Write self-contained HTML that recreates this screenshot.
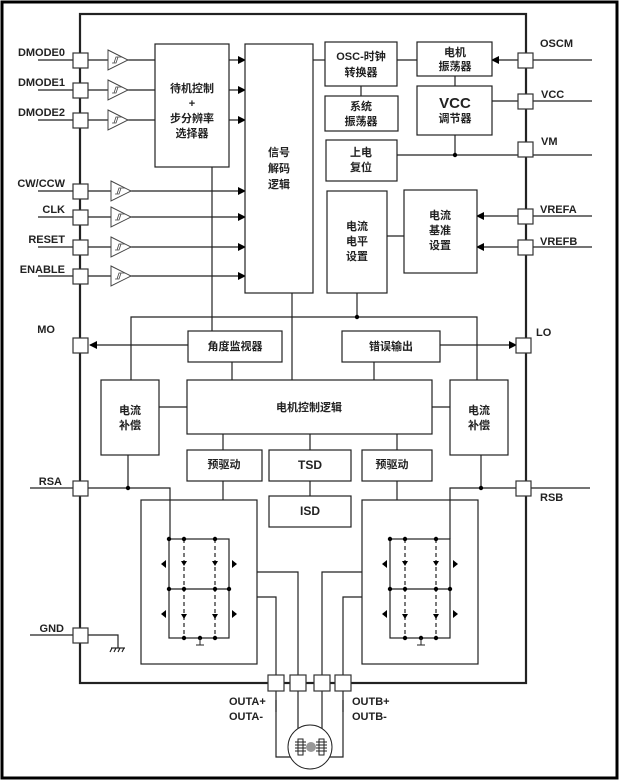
<!DOCTYPE html>
<html><head><meta charset="utf-8"><style>
html,body{margin:0;padding:0;background:#fff;}
svg{display:block;}
text{font-family:"Liberation Sans","Noto Sans CJK SC",sans-serif;font-weight:bold;fill:#222;}
</style></head><body>
<svg width="619" height="780" viewBox="0 0 619 780" xmlns="http://www.w3.org/2000/svg">
<defs>
<marker id="ar" markerWidth="8" markerHeight="8" refX="7" refY="4" orient="auto" markerUnits="userSpaceOnUse"><path d="M0,0 L8,4 L0,8 Z" fill="#000"/></marker>
<g id="buf"><path d="M0,-10 L20,0 L0,10 Z" fill="#fff" stroke="#444" stroke-width="1"/><path d="M4,3 L8,3 L10,-3 L14,-3 M6,3 L8,-3 L12,-3" fill="none" stroke="#444" stroke-width="0.8"/></g>
<g id="br">
<rect x="0" y="0" width="60" height="99" fill="none" stroke="#222" stroke-width="1.2"/>
<line x1="0" y1="50" x2="60" y2="50" stroke="#222" stroke-width="1.2"/>
<line x1="15" y1="0" x2="15" y2="99" stroke="#222" stroke-width="1.2" stroke-dasharray="4,3"/>
<line x1="46" y1="0" x2="46" y2="99" stroke="#222" stroke-width="1.2" stroke-dasharray="4,3"/>
<g fill="#000"><circle cx="0" cy="0" r="2.2"/><circle cx="15" cy="0" r="2.2"/><circle cx="46" cy="0" r="2.2"/>
<circle cx="0" cy="50" r="2.2"/><circle cx="15" cy="50" r="2.2"/><circle cx="46" cy="50" r="2.2"/><circle cx="60" cy="50" r="2.2"/>
<circle cx="15" cy="99" r="2.2"/><circle cx="31" cy="99" r="2.2"/><circle cx="46" cy="99" r="2.2"/>
<path d="M-8,25 l5,-4 v8 z M68,25 l-5,-4 v8 z M-8,75 l5,-4 v8 z M68,75 l-5,-4 v8 z"/>
<path d="M12,22 h6 l-3,5 z M43,22 h6 l-3,5 z M12,75 h6 l-3,5 z M43,75 h6 l-3,5 z"/></g>
<line x1="31" y1="99" x2="31" y2="106" stroke="#222"/><line x1="27" y1="106" x2="35" y2="106" stroke="#222"/>
</g>
</defs>
<rect x="2" y="2" width="615" height="776" fill="none" stroke="#000" stroke-width="3"/>
<g stroke="#222" stroke-width="1.2" fill="none">
<!-- chip -->
<rect x="80" y="14" width="446" height="669" stroke-width="2.2"/>
<!-- left input lines -->
<line x1="38" y1="60" x2="155" y2="60"/><line x1="38" y1="90" x2="155" y2="90"/><line x1="38" y1="120" x2="155" y2="120"/>
<line x1="38" y1="191" x2="245" y2="191" marker-end="url(#ar)"/>
<line x1="38" y1="217" x2="245" y2="217" marker-end="url(#ar)"/>
<line x1="38" y1="247" x2="245" y2="247" marker-end="url(#ar)"/>
<line x1="38" y1="276" x2="245" y2="276" marker-end="url(#ar)"/>
<line x1="229" y1="60" x2="245" y2="60" marker-end="url(#ar)"/>
<line x1="229" y1="90" x2="245" y2="90" marker-end="url(#ar)"/>
<line x1="229" y1="120" x2="245" y2="120" marker-end="url(#ar)"/>
<rect x="155" y="44" width="74" height="123" fill="#fff"/>
<rect x="245" y="44" width="68" height="249" fill="#fff"/>
<line x1="212" y1="167" x2="212" y2="337"/>
<!-- right blocks -->
<line x1="313" y1="60" x2="325" y2="60"/><line x1="397" y1="60" x2="417" y2="60"/>
<line x1="361" y1="86" x2="361" y2="96"/><line x1="455" y1="76" x2="455" y2="86"/>
<line x1="592" y1="60" x2="492" y2="60" marker-end="url(#ar)"/>
<line x1="592" y1="101" x2="492" y2="101"/>
<line x1="592" y1="155" x2="397" y2="155"/><line x1="455" y1="135" x2="455" y2="155"/>
<line x1="592" y1="216" x2="477" y2="216" marker-end="url(#ar)"/>
<line x1="592" y1="247" x2="477" y2="247" marker-end="url(#ar)"/>
<line x1="387" y1="236" x2="404" y2="236"/>
<rect x="325" y="42" width="72" height="44" fill="#fff"/>
<rect x="417" y="42" width="75" height="34" fill="#fff"/>
<rect x="325" y="96" width="73" height="35" fill="#fff"/>
<rect x="417" y="86" width="75" height="49" fill="#fff"/>
<rect x="326" y="140" width="71" height="41" fill="#fff"/>
<rect x="327" y="191" width="60" height="102" fill="#fff"/>
<rect x="404" y="190" width="73" height="83" fill="#fff"/>
<!-- middle -->
<line x1="357" y1="293" x2="357" y2="317"/>
<polyline points="131,380 131,317 477,317 477,380"/>
<line x1="292" y1="293" x2="292" y2="380"/>
<line x1="232" y1="362" x2="232" y2="380"/><line x1="374" y1="362" x2="374" y2="380"/>
<line x1="188" y1="345" x2="90" y2="345" marker-end="url(#ar)"/>
<line x1="440" y1="345" x2="516" y2="345" marker-end="url(#ar)"/>
<rect x="188" y="331" width="94" height="31" fill="#fff"/>
<rect x="342" y="331" width="98" height="31" fill="#fff"/>
<line x1="159" y1="407" x2="187" y2="407"/><line x1="432" y1="407" x2="450" y2="407"/>
<rect x="187" y="380" width="245" height="54" fill="#fff"/>
<rect x="101" y="380" width="58" height="75"/>
<rect x="450" y="380" width="58" height="75"/>
<line x1="223" y1="434" x2="223" y2="450"/><line x1="310" y1="434" x2="310" y2="450"/><line x1="397" y1="434" x2="397" y2="450"/>
<line x1="310" y1="481" x2="310" y2="496"/><line x1="223" y1="481" x2="223" y2="500"/><line x1="397" y1="481" x2="397" y2="500"/>
<rect x="187" y="450" width="75" height="31"/><rect x="269" y="450" width="82" height="31"/><rect x="362" y="450" width="70" height="31"/>
<rect x="269" y="496" width="82" height="31"/>
<!-- RSA/RSB -->
<polyline points="30,488 170,488 170,539"/><line x1="128" y1="455" x2="128" y2="488"/>
<polyline points="590,488 450,488 450,539"/><line x1="481" y1="455" x2="481" y2="488"/>
<rect x="141" y="500" width="116" height="164"/>
<rect x="362" y="500" width="116" height="164"/>
<!-- out wires -->
<polyline points="257,572 298,572 298,757"/>
<polyline points="257,597 276,597 276,712"/>
<polyline points="362,572 322,572 322,757"/>
<polyline points="362,597 343,597 343,712"/>
<polyline points="276,700 276,757 298,757"/><polyline points="343,700 343,757 322,757"/>
<circle cx="310" cy="747" r="22" fill="#fff" stroke-width="1"/>
<!-- gnd -->
<polyline points="30,635 118,635 118,648"/>
<line x1="111" y1="648" x2="125" y2="648"/>
<line x1="112" y1="648" x2="110" y2="652"/><line x1="116" y1="648" x2="114" y2="652"/><line x1="120" y1="648" x2="118" y2="652"/><line x1="124" y1="648" x2="122" y2="652"/>
</g>
<!-- buffers -->
<use href="#buf" x="108" y="60"/><use href="#buf" x="108" y="90"/><use href="#buf" x="108" y="120"/>
<use href="#buf" x="111" y="191"/><use href="#buf" x="111" y="217"/><use href="#buf" x="111" y="247"/><use href="#buf" x="111" y="276"/>
<use href="#br" x="169" y="539"/>
<use href="#br" x="390" y="539"/>
<g fill="#000"><circle cx="455" cy="155" r="2.2"/><circle cx="357" cy="317" r="2.2"/><circle cx="128" cy="488" r="2.2"/><circle cx="481" cy="488" r="2.2"/></g>
<!-- motor -->
<circle cx="311" cy="747" r="5" fill="#999"/>
<g stroke="#222" fill="none" stroke-width="1"><rect x="298" y="739" width="5" height="16"/><rect x="319" y="739" width="5" height="16"/>
<path d="M295,742h11M295,745h11M295,748h11M295,751h11M316,742h11M316,745h11M316,748h11M316,751h11"/></g>
<!-- pads -->
<g fill="#fff" stroke="#333" stroke-width="1.2">
<rect x="73" y="53" width="15" height="15"/><rect x="73" y="83" width="15" height="15"/><rect x="73" y="113" width="15" height="15"/>
<rect x="73" y="184" width="15" height="15"/><rect x="73" y="210" width="15" height="15"/><rect x="73" y="240" width="15" height="15"/><rect x="73" y="269" width="15" height="15"/>
<rect x="73" y="338" width="15" height="15"/><rect x="73" y="481" width="15" height="15"/><rect x="73" y="628" width="15" height="15"/>
<rect x="518" y="53" width="15" height="15"/><rect x="518" y="94" width="15" height="15"/><rect x="518" y="142" width="15" height="15"/>
<rect x="518" y="209" width="15" height="15"/><rect x="518" y="240" width="15" height="15"/>
<rect x="516" y="338" width="15" height="15"/><rect x="516" y="481" width="15" height="15"/>
<rect x="268" y="675" width="16" height="16"/><rect x="290" y="675" width="16" height="16"/><rect x="314" y="675" width="16" height="16"/><rect x="335" y="675" width="16" height="16"/>
</g>
<!-- labels -->
<g font-size="11" text-anchor="end">
<text x="65" y="56">DMODE0</text><text x="65" y="86">DMODE1</text><text x="65" y="116">DMODE2</text>
<text x="65" y="187">CW/CCW</text><text x="65" y="213">CLK</text><text x="65" y="243">RESET</text><text x="65" y="273">ENABLE</text>
<text x="55" y="333">MO</text><text x="62" y="485">RSA</text><text x="64" y="632">GND</text>
</g>
<g font-size="11">
<text x="540" y="47">OSCM</text><text x="541" y="98">VCC</text><text x="541" y="145">VM</text>
<text x="540" y="213">VREFA</text><text x="540" y="245">VREFB</text>
<text x="536" y="336">LO</text><text x="540" y="501">RSB</text>
<text x="229" y="705">OUTA+</text><text x="229" y="720">OUTA-</text>
<text x="352" y="705">OUTB+</text><text x="352" y="720">OUTB-</text>
</g>
<g font-size="11" text-anchor="middle">
<text x="192" y="92">待机控制</text><text x="192" y="107">+</text><text x="192" y="122">步分辨率</text><text x="192" y="137">选择器</text>
<text x="279" y="156">信号</text><text x="279" y="172">解码</text><text x="279" y="188">逻辑</text>
<text x="361" y="60">OSC-时钟</text><text x="361" y="76">转换器</text>
<text x="455" y="56">电机</text><text x="455" y="70">振荡器</text>
<text x="361" y="110">系统</text><text x="361" y="125">振荡器</text>
<text x="455" y="108" font-size="15">VCC</text><text x="455" y="122">调节器</text>
<text x="361" y="156">上电</text><text x="361" y="171">复位</text>
<text x="357" y="230">电流</text><text x="357" y="245">电平</text><text x="357" y="260">设置</text>
<text x="440" y="219">电流</text><text x="440" y="234">基准</text><text x="440" y="249">设置</text>
<text x="235" y="350">角度监视器</text><text x="391" y="350">错误输出</text>
<text x="309" y="411">电机控制逻辑</text>
<text x="130" y="414">电流</text><text x="130" y="429">补偿</text>
<text x="479" y="414">电流</text><text x="479" y="429">补偿</text>
<text x="224" y="468">预驱动</text><text x="310" y="469" font-size="12">TSD</text><text x="392" y="468">预驱动</text>
<text x="310" y="515" font-size="12">ISD</text>
</g>
</svg>
</body></html>
